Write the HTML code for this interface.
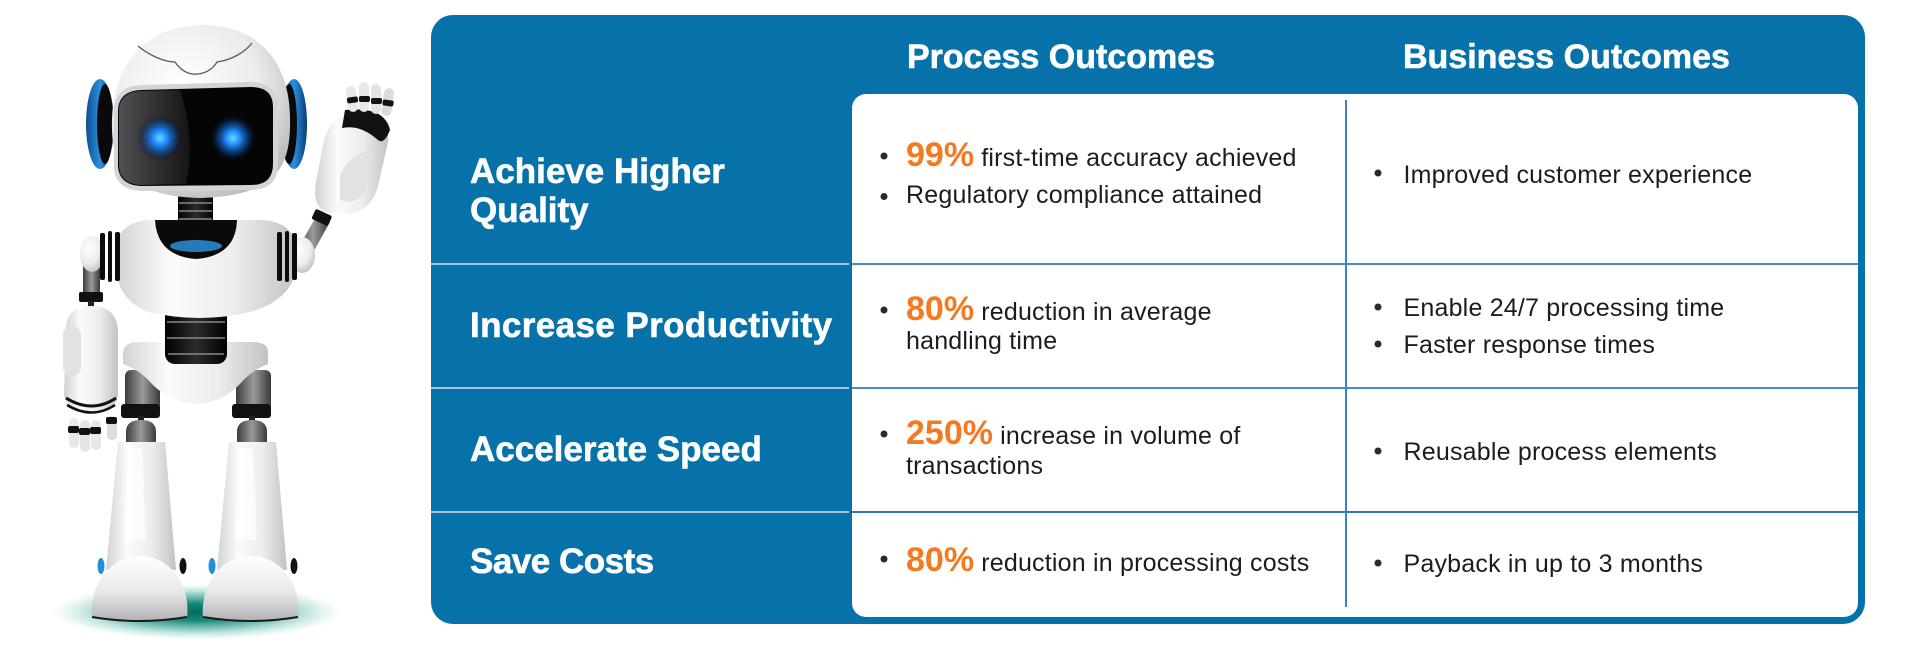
<!DOCTYPE html>
<html>
<head>
<meta charset="utf-8">
<style>
html,body{margin:0;padding:0;}
body{width:1920px;height:664px;background:#fff;position:relative;overflow:hidden;font-family:"Liberation Sans",Arial,sans-serif;}
.abs{position:absolute;}
</style>
</head>
<body>
<div class="abs" style="left:431px;top:15px;width:1434px;height:609px;background:#0672a9;border-radius:22px;"></div>
<div class="abs" style="left:852px;top:94px;width:1006px;height:523px;background:#fff;border-radius:14px;"></div>
<!-- left dividers -->
<div class="abs" style="left:431px;top:263px;width:418px;height:2px;background:#aac3d8;"></div>
<div class="abs" style="left:431px;top:387px;width:418px;height:2px;background:#aac3d8;"></div>
<div class="abs" style="left:431px;top:511px;width:418px;height:2px;background:#aac3d8;"></div>
<!-- right dividers -->
<div class="abs" style="left:852px;top:263px;width:1006px;height:2px;background:#4a8cc5;"></div>
<div class="abs" style="left:852px;top:387px;width:1006px;height:2px;background:#4a8cc5;"></div>
<div class="abs" style="left:852px;top:511px;width:1006px;height:2px;background:#2f78b8;"></div>
<div class="abs" style="left:1345px;top:100px;width:2px;height:507px;background:#3a82c0;"></div>

<svg class="abs" style="left:0;top:0" width="1920" height="664" viewBox="0 0 1920 664" xmlns="http://www.w3.org/2000/svg">
<defs>
  <radialGradient id="shadow" cx="0.5" cy="0.5" r="0.5">
    <stop offset="0" stop-color="#036b60"/>
    <stop offset="0.3" stop-color="#16897c"/>
    <stop offset="0.6" stop-color="#5db5aa" stop-opacity="0.7"/>
    <stop offset="0.85" stop-color="#b5e0da" stop-opacity="0.35"/>
    <stop offset="1" stop-color="#ffffff" stop-opacity="0"/>
  </radialGradient>
  <linearGradient id="wht" x1="0" y1="0" x2="1" y2="0">
    <stop offset="0" stop-color="#d2d2d2"/>
    <stop offset="0.3" stop-color="#fbfbfb"/>
    <stop offset="0.65" stop-color="#ededed"/>
    <stop offset="1" stop-color="#c2c2c2"/>
  </linearGradient>
  <radialGradient id="whr" cx="0.4" cy="0.35" r="0.7">
    <stop offset="0" stop-color="#ffffff"/>
    <stop offset="0.6" stop-color="#ececec"/>
    <stop offset="1" stop-color="#bdbdbd"/>
  </radialGradient>
  <linearGradient id="footg" x1="0" y1="0" x2="0" y2="1">
    <stop offset="0" stop-color="#ffffff"/>
    <stop offset="0.55" stop-color="#e8e8e8"/>
    <stop offset="1" stop-color="#b0b0b0"/>
  </linearGradient>
  <radialGradient id="eye" cx="0.5" cy="0.5" r="0.5">
    <stop offset="0" stop-color="#6fd6ff"/>
    <stop offset="0.3" stop-color="#1e8cff"/>
    <stop offset="0.65" stop-color="#0c4a9a" stop-opacity="0.6"/>
    <stop offset="1" stop-color="#000" stop-opacity="0"/>
  </radialGradient>
  <linearGradient id="grey" x1="0" y1="0" x2="1" y2="0">
    <stop offset="0" stop-color="#3c3c3c"/>
    <stop offset="0.5" stop-color="#9a9a9a"/>
    <stop offset="1" stop-color="#3a3a3a"/>
  </linearGradient>
  <linearGradient id="blk" x1="0" y1="0" x2="1" y2="0">
    <stop offset="0" stop-color="#000"/>
    <stop offset="0.5" stop-color="#2c2c2c"/>
    <stop offset="1" stop-color="#000"/>
  </linearGradient>
  <linearGradient id="ear" x1="0" y1="0" x2="1" y2="0">
    <stop offset="0" stop-color="#0d4f8f"/>
    <stop offset="0.5" stop-color="#2a8fe0"/>
    <stop offset="1" stop-color="#0a3c70"/>
  </linearGradient>
  <linearGradient id="visorref" x1="0" y1="0" x2="1" y2="0">
    <stop offset="0" stop-color="#6a6a6a"/>
    <stop offset="1" stop-color="#1a1a1a"/>
  </linearGradient>
</defs>

<!-- ROBOT -->
<ellipse cx="197" cy="612" rx="150" ry="29" fill="url(#shadow)"/>

<!-- legs -->
<g id="leg">
  <rect x="125" y="370" width="35" height="40" rx="6" fill="url(#grey)"/>
  <rect x="121" y="404" width="39" height="14" rx="3" fill="#111"/>
  <rect x="138" y="416" width="6" height="6" fill="#222"/>
  <path d="M126,443 L126,432 Q126,420 141,420 Q156,420 156,432 L156,443 Z" fill="url(#grey)"/>
  <path d="M118,442 L165,442 L176,570 L106,570 Z" fill="url(#wht)"/>
  <path d="M128,448 L142,448 L146,540 L124,540 Z" fill="#ffffff" opacity="0.7"/>
  <ellipse cx="101" cy="566" rx="3.5" ry="8" fill="#1e8fd8"/>
  <ellipse cx="183" cy="566" rx="3.5" ry="8" fill="#111"/>
  <path d="M92,618 C89,582 112,556 140,556 C168,556 191,582 187,618 Q140,626 92,618 Z" fill="url(#footg)"/>
  <path d="M92,617 Q140,625 187,617" stroke="#1a1a1a" stroke-width="2" fill="none"/>
</g>
<use href="#leg" transform="translate(111,0)"/>

<!-- pelvis -->
<path d="M123,352 Q124,342 140,342 L252,342 Q268,342 268,352 L268,364 Q252,370 240,384 Q220,404 196,404 Q172,404 152,384 Q140,370 123,364 Z" fill="url(#wht)"/>
<!-- belly -->
<rect x="165" y="288" width="62" height="76" rx="10" fill="url(#blk)"/>
<g stroke="#8a8a8a" stroke-width="1.5">
  <line x1="167" y1="306" x2="225" y2="306"/>
  <line x1="167" y1="322" x2="225" y2="322"/>
  <line x1="167" y1="338" x2="225" y2="338"/>
  <line x1="168" y1="354" x2="224" y2="354"/>
</g>

<!-- left arm -->
<rect x="83" y="262" width="17" height="36" fill="url(#grey)"/>
<rect x="79" y="292" width="24" height="10" rx="2" fill="#111"/>
<rect x="88" y="301" width="6" height="6" fill="#222"/>
<ellipse cx="92" cy="254" rx="12" ry="18" fill="url(#whr)"/>
<!-- left hand -->
<path d="M66,330 Q66,306 91,306 Q116,306 118,330 L118,396 Q115,412 92,412 Q67,411 64,396 Z" fill="url(#wht)"/>
<rect x="63" y="326" width="18" height="50" rx="9" fill="#e2e2e2"/>
<path d="M66,398 Q92,414 116,398" stroke="#111" stroke-width="3" fill="none"/>
<path d="M67,405 Q92,420 115,405" stroke="#111" stroke-width="2.5" fill="none"/>
<rect x="69" y="418" width="10" height="30" rx="5" fill="#e8e8e8"/>
<rect x="80" y="420" width="10" height="32" rx="5" fill="#e4e4e4"/>
<rect x="91" y="420" width="10" height="30" rx="5" fill="#e6e6e6"/>
<rect x="107" y="416" width="10" height="24" rx="5" fill="#dedede"/>
<rect x="68" y="426" width="11" height="7" rx="2" fill="#111"/>
<rect x="79" y="428" width="11" height="7" rx="2" fill="#111"/>
<rect x="90" y="427" width="11" height="7" rx="2" fill="#111"/>
<rect x="106" y="417" width="11" height="7" rx="2" fill="#111"/>

<!-- right arm -->
<path d="M296,252 L310,258 L330,222 L317,215 Z" fill="url(#grey)"/>
<rect x="313" y="212" width="18" height="11" rx="2" fill="#111" transform="rotate(25 322 217)"/>
<ellipse cx="302" cy="255" rx="13" ry="18" fill="url(#whr)"/>
<!-- right hand -->
<path d="M326,212 Q312,206 316,182 L324,140 Q332,112 360,112 Q390,115 388,142 L378,186 Q371,213 345,214 Z" fill="url(#wht)"/>
<path d="M345,110 Q385,106 390,130 Q384,145 378,140 Q360,124 342,128 Z" fill="#111"/>
<path d="M340,175 Q352,150 372,152 L366,190 Q356,206 340,200 Z" fill="#e2e2e2"/>
<rect x="347" y="86" width="10" height="26" rx="5" fill="#e8e8e8" transform="rotate(-8 352 100)"/>
<rect x="359" y="82" width="10" height="30" rx="5" fill="#e8e8e8"/>
<rect x="371" y="84" width="10" height="30" rx="5" fill="#e2e2e2"/>
<rect x="383" y="88" width="10" height="28" rx="5" fill="#dcdcdc" transform="rotate(8 388 100)"/>
<rect x="347" y="97" width="11" height="6" rx="2" fill="#111" transform="rotate(-8 352 100)"/>
<rect x="359" y="96" width="11" height="6" rx="2" fill="#111"/>
<rect x="371" y="98" width="11" height="6" rx="2" fill="#111"/>
<rect x="383" y="100" width="11" height="6" rx="2" fill="#111" transform="rotate(8 388 100)"/>

<!-- neck -->
<rect x="178" y="194" width="35" height="40" rx="4" fill="url(#blk)"/>
<g stroke="#888" stroke-width="1.5">
  <line x1="179" y1="203" x2="212" y2="203"/>
  <line x1="179" y1="211" x2="212" y2="211"/>
  <line x1="179" y1="219" x2="212" y2="219"/>
  <line x1="179" y1="227" x2="212" y2="227"/>
</g>

<!-- torso -->
<path d="M116,248 Q118,222 150,220 L262,220 Q294,222 296,248 L296,268 Q292,300 250,312 Q200,324 148,312 Q118,300 116,268 Z" fill="url(#wht)"/>
<path d="M155,220 L237,220 Q236,256 196,259 Q157,256 155,220 Z" fill="#0a0a0a"/>
<ellipse cx="196" cy="246" rx="26" ry="6" fill="#2a8fd8" opacity="0.85"/>
<!-- shoulder stripes -->
<g fill="#0c0c0c">
  <rect x="100" y="233" width="5" height="47" rx="2"/>
  <rect x="108" y="231" width="4" height="51" rx="2"/>
  <rect x="115" y="232" width="5" height="49" rx="2"/>
  <rect x="277" y="232" width="5" height="49" rx="2"/>
  <rect x="285" y="231" width="4" height="51" rx="2"/>
  <rect x="292" y="233" width="5" height="47" rx="2"/>
</g>

<!-- head -->
<ellipse cx="100" cy="124" rx="14" ry="45" fill="url(#ear)"/>
<ellipse cx="105" cy="124" rx="8" ry="40" fill="#0a0a0a"/>
<ellipse cx="294" cy="124" rx="13" ry="45" fill="url(#ear)"/>
<ellipse cx="289" cy="124" rx="8" ry="40" fill="#0a0a0a"/>
<path d="M112,130 C110,60 150,25 203,25 C256,25 292,60 290,125 C290,172 270,196 200,198 C134,196 113,172 112,130 Z" fill="url(#whr)"/>
<path d="M138,46 C150,56 165,62 175,62 C182,72 190,75 198,74 C208,73 214,67 217,62 C232,60 245,52 252,43" stroke="#5a5a5a" stroke-width="1.3" fill="none"/>
<path d="M114,112 Q114,86 142,85 L250,82 Q278,82 278,108 L278,164 Q278,190 250,190 L142,191 Q114,190 114,166 Z" fill="#d4d4d4"/>
<path d="M118,110 Q119,91 141,90 L251,87 Q273,87 273,107 L273,164 Q273,185 251,185 L141,186 Q119,185 118,166 Z" fill="#050505"/>
<path d="M119,110 Q120,92 141,91 L180,90 Q196,140 186,184 L141,185 Q120,184 119,166 Z" fill="url(#visorref)" opacity="0.75"/>
<circle cx="160" cy="138" r="24" fill="url(#eye)"/>
<circle cx="233" cy="138" r="24" fill="url(#eye)"/>

<!-- HEADERS -->
<g font-family="Liberation Sans, Arial, sans-serif" font-weight="bold" fill="#ffffff" stroke="#ffffff" stroke-width="0.6">
  <text x="907" y="68" font-size="34">Process Outcomes</text>
  <text x="1403" y="68" font-size="34">Business Outcomes</text>
  <text x="470" y="183" font-size="35">Achieve Higher</text>
  <text x="470" y="222" font-size="35">Quality</text>
  <text x="470" y="337" font-size="35" letter-spacing="0.4">Increase Productivity</text>
  <text x="470" y="461" font-size="35">Accelerate Speed</text>
  <text x="470" y="573" font-size="35" letter-spacing="-0.5">Save Costs</text>
</g>

<!-- BODY -->
<g font-family="Liberation Sans, Arial, sans-serif" font-size="25" fill="#1c1c1c" letter-spacing="0.2">
  <text x="906" y="166"><tspan font-weight="bold" font-size="34" fill="#f47920" letter-spacing="0">99%</tspan> first-time accuracy achieved</text>
  <text x="906" y="203">Regulatory compliance attained</text>
  <text x="906" y="320"><tspan font-weight="bold" font-size="34" fill="#f47920" letter-spacing="0">80%</tspan> reduction in average</text>
  <text x="906" y="349">handling time</text>
  <text x="906" y="444"><tspan font-weight="bold" font-size="34" fill="#f47920" letter-spacing="0">250%</tspan> increase in volume of</text>
  <text x="906" y="474">transactions</text>
  <text x="906" y="571"><tspan font-weight="bold" font-size="34" fill="#f47920" letter-spacing="0">80%</tspan> reduction in processing costs</text>

  <text x="1403.5" y="183">Improved customer experience</text>
  <text x="1403.5" y="316">Enable 24/7 processing time</text>
  <text x="1403.5" y="353">Faster response times</text>
  <text x="1403.5" y="460">Reusable process elements</text>
  <text x="1403.5" y="572">Payback in up to 3 months</text>
</g>
<g fill="#2a2a2a">
  <circle cx="884" cy="156" r="3.5"/>
  <circle cx="884" cy="196.5" r="3.5"/>
  <circle cx="884" cy="310" r="3.5"/>
  <circle cx="884" cy="434" r="3.5"/>
  <circle cx="884" cy="559" r="3.5"/>
  <circle cx="1378" cy="173" r="3.5"/>
  <circle cx="1378" cy="307" r="3.5"/>
  <circle cx="1378" cy="344" r="3.5"/>
  <circle cx="1378" cy="451" r="3.5"/>
  <circle cx="1378" cy="563" r="3.5"/>
</g>
</svg>
</body>
</html>
